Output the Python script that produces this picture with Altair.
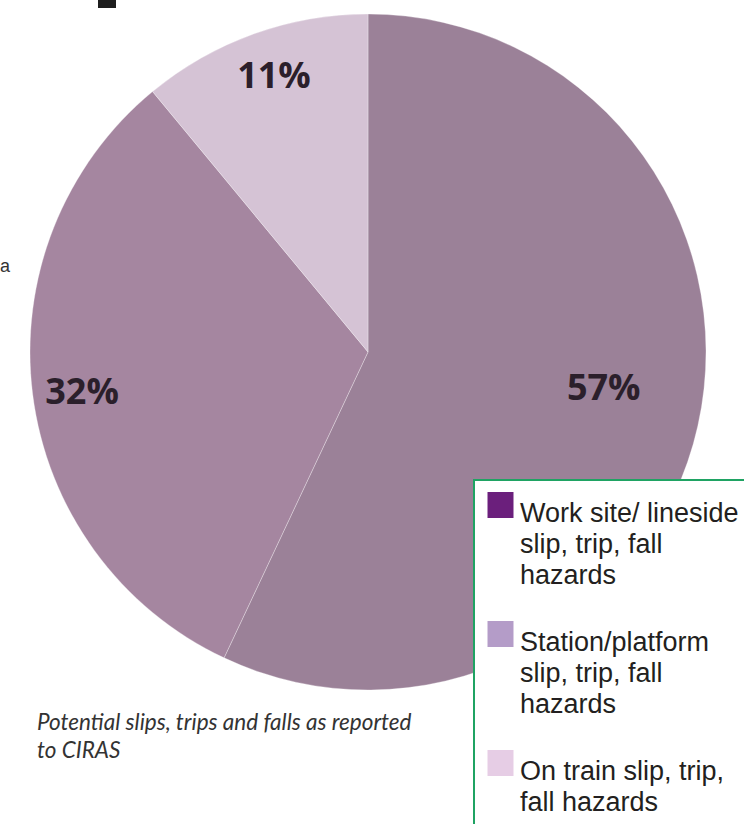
import altair as alt
import pandas as pd

# ---- data ----
categories = [
    "Work site/ lineside slip, trip, fall hazards",
    "Station/platform slip, trip, fall hazards",
    "On train slip, trip, fall hazards",
]
values = [57, 32, 11]
legend_lines = [
    "Work site/ lineside|slip, trip, fall|hazards",
    "Station/platform|slip, trip, fall|hazards",
    "On train slip, trip,|fall hazards",
]
pie_colors = ["#9b8198", "#a586a0", "#d5c3d5"]
legend_colors = ["#6b1f7c", "#b49cc8", "#e6cde5"]
caption = ["Potential slips, trips and falls as reported", "to CIRAS"]

df = pd.DataFrame({
    "cat": categories,
    "value": values,
    "idx": list(range(len(categories))),
    "lines": legend_lines,
})

W, H = 736, 704  # plot area; pie centre = (W/2, H/2)

theta_scale = alt.Scale(domain=[0, sum(values)])

base = (
    alt.Chart(df)
    .transform_window(end="sum(value)", sort=[alt.SortField("idx")], frame=[None, 0])
    .transform_calculate(start="datum.end - datum.value",
                         mid="datum.end - datum.value / 2",
                         label="datum.value + '%'")
)

pie = base.mark_arc(radius=338, stroke="#ffffff", strokeWidth=0.6, strokeOpacity=0.5).encode(
    theta=alt.Theta("start:Q", scale=theta_scale),
    theta2="end:Q",
    color=alt.Color("cat:N", scale=alt.Scale(domain=categories, range=pie_colors), legend=None),
)

nudges = {categories[0]: (-18, -20), categories[1]: (-28, 8), categories[2]: (-6, -30)}
label_layers = []
for c in categories:
    dx, dy = nudges[c]
    label_layers.append(
        base.transform_filter(alt.datum.cat == c)
        .mark_text(radius=260, dx=dx, dy=dy, font="Open Sans", fontWeight="bold",
                   fontSize=36, color="#2b1f2b", align="center", baseline="middle")
        .encode(theta=alt.Theta("mid:Q", scale=theta_scale), text="label:N")
    )

one = alt.Data(values=[{}])

legend_box = alt.Chart(one).mark_rect(fill="white", stroke="#1fa363", strokeWidth=2).encode(
    x=alt.value(474), x2=alt.value(820), y=alt.value(480), y2=alt.value(900)
)

yscale = alt.Scale(type="point", domain=categories, range=[522, 780], padding=0)

legend_sq = alt.Chart(df).mark_square(size=676, opacity=1, yOffset=-17).encode(
    x=alt.value(500.5),
    y=alt.Y("cat:N", scale=yscale, axis=None),
    color=alt.Color("cat:N", scale=alt.Scale(domain=categories, range=legend_colors), legend=None),
)

legend_txt = (
    alt.Chart(df)
    .transform_calculate(ltxt="split(datum.lines, '|')")
    .mark_text(font="Liberation Sans", fontSize=27, color="#231f20", align="left",
               baseline="alphabetic", lineHeight=31)
    .encode(x=alt.value(520), y=alt.Y("cat:N", scale=yscale, axis=None), text="ltxt:N")
)

caption_txt = alt.Chart(one).mark_text(
    text=caption, font="Lato", fontStyle="italic", fontSize=22.5, color="#333333",
    align="left", baseline="alphabetic", lineHeight=28,
).encode(x=alt.value(37), y=alt.value(730))

frag_a = alt.Chart(one).mark_text(text="a", font="Liberation Sans", fontSize=18,
                                  color="#333333", align="left", baseline="alphabetic").encode(
    x=alt.value(0), y=alt.value(272))

frag_bar = alt.Chart(one).mark_rect(fill="#1e1e1e").encode(
    x=alt.value(98), x2=alt.value(116), y=alt.value(0), y2=alt.value(8))

chart = (
    alt.layer(pie, *label_layers, legend_box, legend_sq, legend_txt, caption_txt, frag_a, frag_bar)
    .resolve_scale(color="independent")
    .properties(
        width=W, height=H,
        autosize=alt.AutoSizeParams(type="none"),
        padding={"left": 0, "top": 0, "right": 744 - W, "bottom": 824 - H},
        background="white",
    )
    .configure_view(stroke=None)
)

chart.save("out.html", embed_options={"renderer": "svg", "actions": False})
